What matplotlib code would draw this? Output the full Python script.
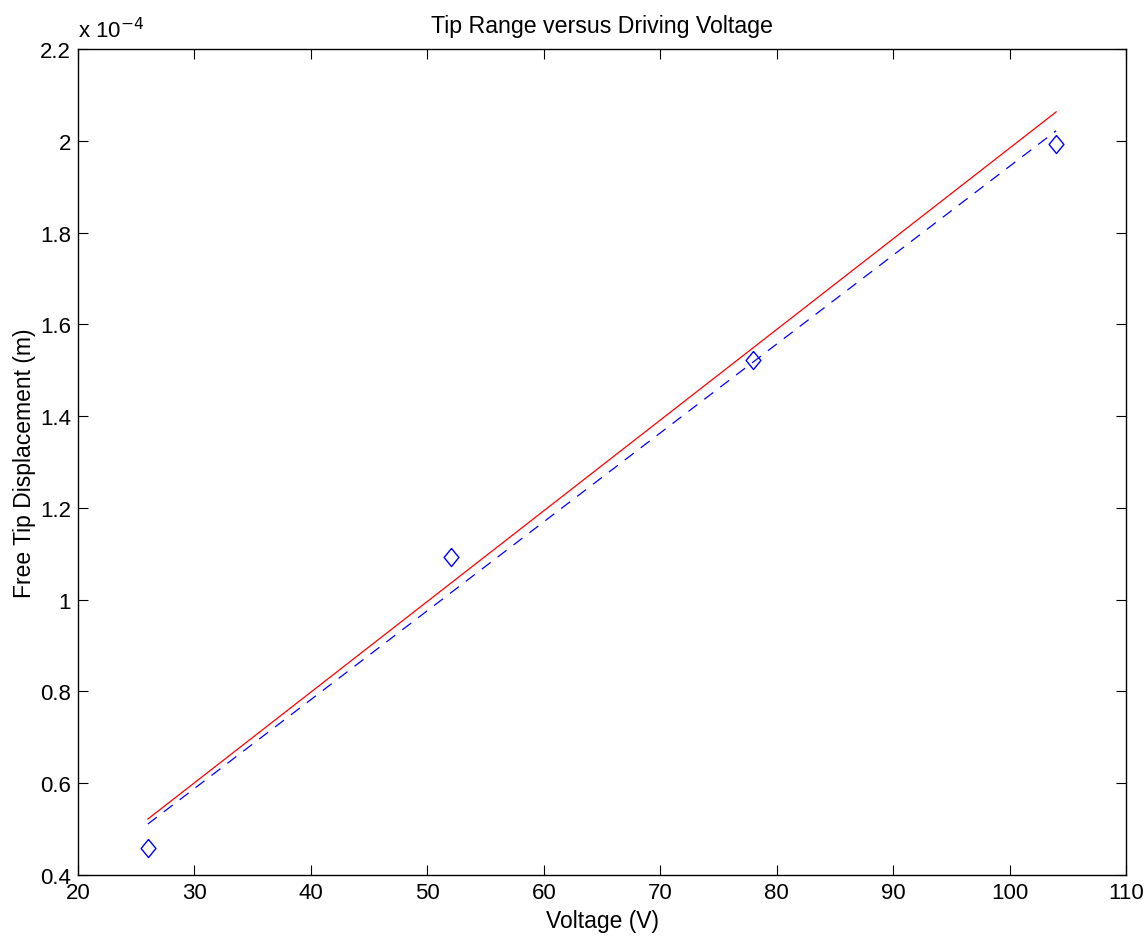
import matplotlib.pyplot as plt
import numpy as np

plt.rcParams['font.family'] = ['Liberation Sans', 'DejaVu Sans']

# measured tip displacement (m) at each driving voltage
voltage = [26, 52, 78, 104]
displacement = [0.458e-4, 1.092e-4, 1.523e-4, 1.993e-4]

# model prediction at the end voltages
model_voltage = [26, 104]
model_disp = [0.522e-4, 2.063e-4]

x_ticks = [20, 30, 40, 50, 60, 70, 80, 90, 100, 110]
y_ticks = [0.4, 0.6, 0.8, 1.0, 1.2, 1.4, 1.6, 1.8, 2.0, 2.2]
y_labels = ['0.4', '0.6', '0.8', '1', '1.2', '1.4', '1.6', '1.8', '2', '2.2']

fig = plt.figure(figsize=(11.47, 9.37), dpi=100)
ax = fig.add_axes([0.068, 0.0651, 0.9137, 0.8815])

# least squares fit of the measurements
p = np.polyfit(voltage, displacement, 1)
fit_v = np.array([voltage[0], voltage[-1]])

diamond = [(0, 1), (0.82, 0), (0, -1), (-0.82, 0), (0, 1)]
ax.plot(np.array(voltage), np.array(displacement) * 1e4, linestyle='none', marker=diamond,
        markersize=13, markerfacecolor='none', markeredgecolor='#0000ff', markeredgewidth=1.0)
ax.plot(np.array(model_voltage), np.array(model_disp) * 1e4, color='#ff0000', linewidth=0.9)
ax.plot(fit_v, np.polyval(p, fit_v) * 1e4, color='#0000ff', linewidth=0.9, dashes=(9, 7))

ax.set_xlim(20, 110)
ax.set_ylim(0.4, 2.2)
ax.set_xticks(x_ticks)
ax.set_yticks(y_ticks)
ax.set_yticklabels(y_labels)
ax.tick_params(direction='in', length=7, width=0.8, top=True, right=True,
               labelsize=16, pad=5)
for s in ax.spines.values():
    s.set_linewidth(1.0)

ax.text(0.0, 1.008, r'x 10$^{-4}$', transform=ax.transAxes, fontsize=16,
        ha='left', va='bottom')
ax.set_title('Tip Range versus Driving Voltage', fontsize=16.7, pad=12)
ax.set_xlabel('Voltage (V)', fontsize=16.5, labelpad=4)
ax.set_ylabel('Free Tip Displacement (m)', fontsize=16.5, labelpad=3)

fig.savefig('out.png', dpi=100)
